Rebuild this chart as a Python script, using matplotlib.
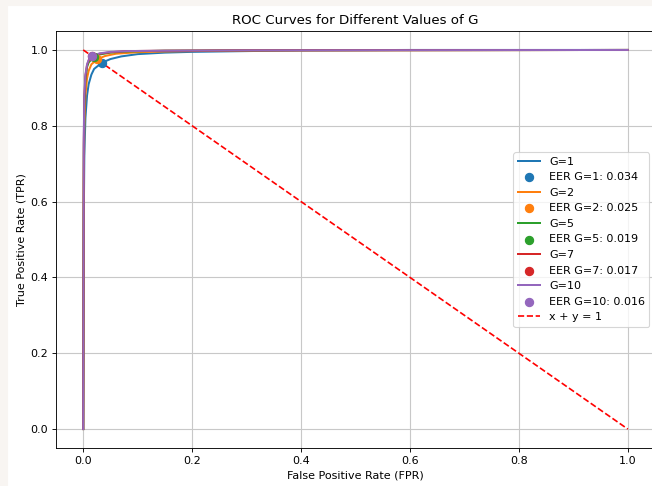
import matplotlib
matplotlib.use("Agg")
import matplotlib.pyplot as plt
from matplotlib.patches import Rectangle

# ROC curve samples, per G
g_values = [1, 2, 5, 7, 10]

fpr_g1 = [0, 0.001, 0.002, 0.004, 0.007, 0.01, 0.015, 0.02, 0.034, 0.05, 0.07, 0.1, 0.15, 0.2, 0.3, 0.4, 0.6, 1.0]
tpr_g1 = [0, 0.55, 0.72, 0.82, 0.88, 0.91, 0.935, 0.95, 0.966, 0.976, 0.983, 0.989, 0.993, 0.995, 0.997, 0.999, 1.0, 1.0]

fpr_g2 = [0, 0.001, 0.002, 0.004, 0.007, 0.01, 0.015, 0.025, 0.04, 0.06, 0.1, 0.15, 0.25, 0.4, 1.0]
tpr_g2 = [0, 0.65, 0.8, 0.88, 0.925, 0.945, 0.962, 0.975, 0.984, 0.99, 0.994, 0.996, 0.998, 0.999, 1.0]

fpr_g5 = [0, 0.001, 0.002, 0.004, 0.007, 0.01, 0.019, 0.03, 0.05, 0.08, 0.15, 0.3, 1.0]
tpr_g5 = [0, 0.72, 0.85, 0.92, 0.955, 0.967, 0.981, 0.988, 0.993, 0.996, 0.998, 0.999, 1.0]

fpr_g7 = [0, 0.001, 0.002, 0.004, 0.007, 0.01, 0.017, 0.03, 0.05, 0.08, 0.15, 0.3, 1.0]
tpr_g7 = [0, 0.75, 0.87, 0.93, 0.96, 0.972, 0.983, 0.99, 0.994, 0.997, 0.998, 0.999, 1.0]

fpr_g10 = [0, 0.001, 0.002, 0.004, 0.007, 0.01, 0.016, 0.03, 0.05, 0.08, 0.15, 0.3, 1.0]
tpr_g10 = [0, 0.77, 0.88, 0.935, 0.962, 0.974, 0.984, 0.991, 0.995, 0.997, 0.998, 0.999, 1.0]

fprs = [fpr_g1, fpr_g2, fpr_g5, fpr_g7, fpr_g10]
tprs = [tpr_g1, tpr_g2, tpr_g5, tpr_g7, tpr_g10]
eers = [0.034, 0.025, 0.019, 0.017, 0.016]

colors = ['#1f77b4', '#ff7f0e', '#2ca02c', '#d62728', '#9467bd']

dpi = 80
fig = plt.figure(figsize=(652 / dpi, 486 / dpi), dpi=dpi)
# faint screenshot border
fig.patches.append(Rectangle((0, 0), 7 / 652, 1, transform=fig.transFigure, color='#f8f5f2', zorder=0))
fig.patches.append(Rectangle((0, 1 - 5 / 486), 1, 5 / 486, transform=fig.transFigure, color='#f8f5f2', zorder=0))

ax = fig.add_axes([56 / 652, 38 / 486, 599 / 652, 417 / 486])

for g, fpr, tpr, eer, c in zip(g_values, fprs, tprs, eers, colors):
    ax.plot(fpr, tpr, color=c, lw=1.8, label=f'G={g}')
    ax.scatter([eer], [1 - eer], color=c, s=55, zorder=3, label=f'EER G={g}: {eer:.3f}')

ax.plot([0, 1], [1, 0], 'r--', lw=1.5, label='x + y = 1')

ax.set_title('ROC Curves for Different Values of G', fontsize=12)
ax.set_xlabel('False Positive Rate (FPR)')
ax.set_ylabel('True Positive Rate (TPR)')
ax.set_xlim(-0.05, 1.05)
ax.set_ylim(-0.05, 1.05)
ax.grid(True, color='#c8c8c8', lw=1)
ax.legend(loc='center right', bbox_to_anchor=(1.0, 0.5))

fig.savefig('out.png', dpi=dpi)
